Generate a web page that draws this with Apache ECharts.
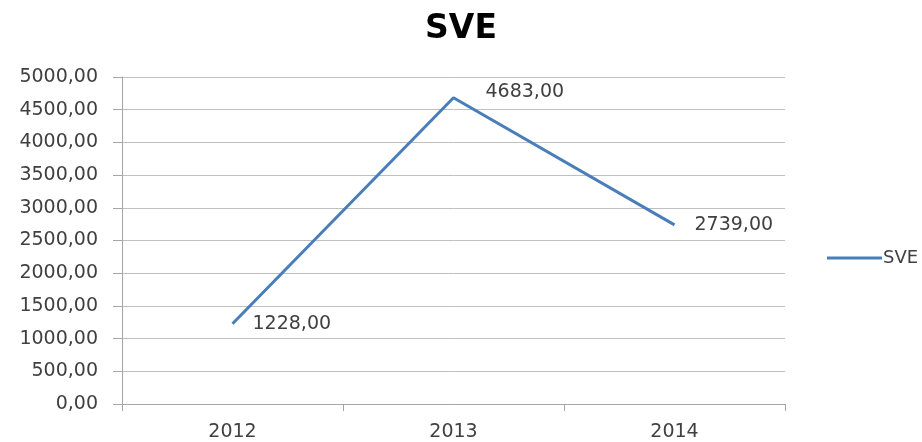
<!DOCTYPE html>
<html>
<head>
<meta charset="utf-8">
<script src="https://cdn.jsdelivr.net/npm/echarts@6/dist/echarts.min.js"></script>
<style>html,body{margin:0;padding:0;background:#fff;}#c{width:922px;height:442px;}</style>
</head>
<body>
<div id="c"></div>
<script>
var categories = ['2012', '2013', '2014'];
var sveValues = [1228, 4683, 2739];
var seriesName = 'SVE';
var titleText = 'SVE';

function fmt(v) { return v.toFixed(2).replace('.', ','); }
var FONT = 'DejaVu Sans, sans-serif';

var chart = echarts.init(document.getElementById('c'));
chart.setOption({
  animation: false,
  backgroundColor: '#fff',
  textStyle: { fontFamily: FONT },
  title: {
    text: titleText, left: 'center', top: 8,
    textStyle: { fontSize: 33, fontWeight: 'bold', color: '#000', fontFamily: FONT }
  },
  legend: {
    data: [seriesName], left: 822, top: 244, orient: 'vertical',
    itemWidth: 55, itemHeight: 22, itemGap: 2,
    icon: 'path://M0,9.5 L55,9.5 L55,12.5 L0,12.5 Z',
    textStyle: { fontSize: 18, color: '#404040', padding: [0, 0, 0, -4], fontFamily: FONT }
  },
  grid: { left: 122, right: 137, top: 77, bottom: 37 },
  xAxis: {
    type: 'category', data: categories, boundaryGap: true,
    axisLine: { lineStyle: { color: '#a6a6a6', width: 1 } },
    axisTick: { show: true, length: 7, lineStyle: { color: '#a6a6a6' } },
    axisLabel: { fontSize: 19, color: '#404040', margin: 19, fontFamily: FONT }
  },
  yAxis: {
    type: 'value', min: 0, max: 5000, interval: 500,
    axisLine: { show: true, lineStyle: { color: '#a6a6a6', width: 1 } },
    axisTick: { show: true, length: 9, lineStyle: { color: '#a6a6a6' } },
    splitLine: { lineStyle: { color: '#bfbfbf', width: 1 } },
    axisLabel: { fontSize: 19, color: '#404040', margin: 24, formatter: fmt, fontFamily: FONT }
  },
  series: [{
    name: seriesName, type: 'line', data: sveValues,
    symbol: 'circle', symbolSize: 0, showSymbol: true,
    lineStyle: { color: '#4a7ebb', width: 3 },
    itemStyle: { color: '#4a7ebb' },
    label: {
      show: true, position: 'right', distance: 20, fontSize: 19, color: '#404040', fontFamily: FONT,
      formatter: function (p) { return fmt(p.value); }
    },
    labelLayout: function (params) {
      if (params.dataIndex === 1) { return { dx: 12, dy: -6 }; }
      return {};
    }
  }]
});
</script>
</body>
</html>
